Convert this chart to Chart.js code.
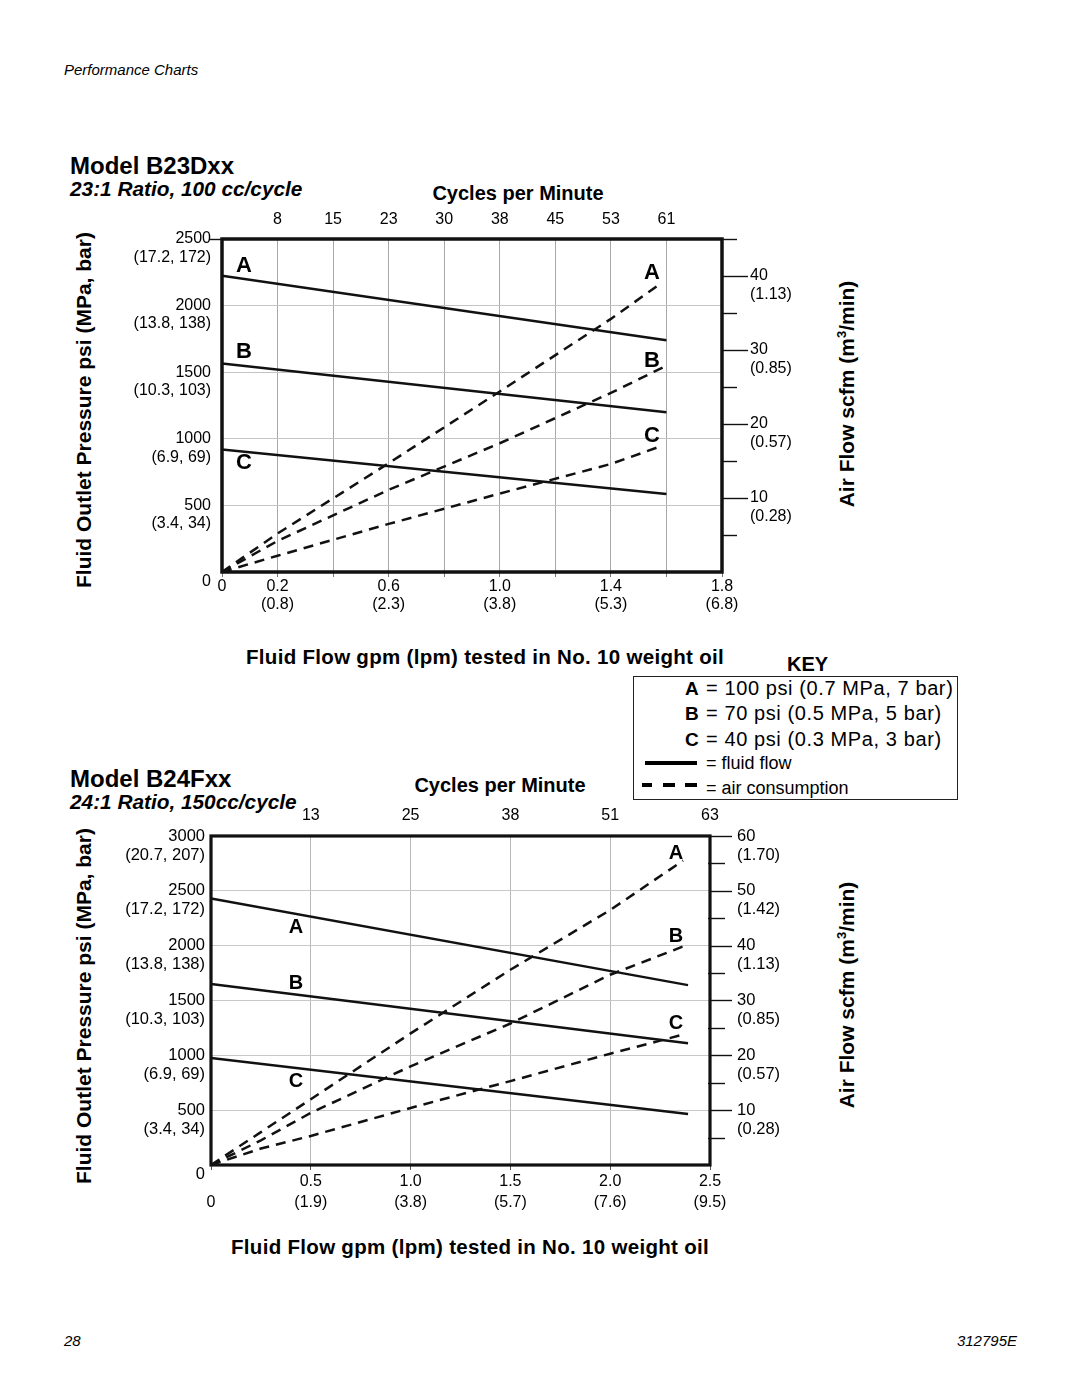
<!DOCTYPE html>
<html><head><meta charset="utf-8">
<script src="https://cdn.jsdelivr.net/npm/chart.js"></script>
<style>
html,body{margin:0;padding:0;background:#fff}
body{width:1080px;height:1397px;position:relative;overflow:hidden;font-family:"Liberation Sans",Arial,Helvetica,sans-serif;color:#000}
.t{position:absolute;white-space:nowrap;line-height:1}
.b{font-weight:bold}
.i{font-style:italic}
.c{transform:translateX(-50%)}
.rot{position:absolute;white-space:nowrap;line-height:1;font-weight:bold;font-size:21px;transform:translate(-50%,-50%) rotate(-90deg)}
.rot sup{font-size:0.62em;line-height:0;vertical-align:0.55em}
canvas{position:absolute;left:0}
#key{position:absolute;left:633px;top:676px;width:323px;height:122px;border:1.5px solid #222}
.bar{position:absolute;background:#000;height:4px}
</style></head>
<body>
<div class="t i" style="left:64px;top:62px;font-size:15px">Performance Charts</div>

<div class="t b" style="left:70px;top:154px;font-size:24px">Model B23Dxx</div>
<div class="t b i" style="left:70px;top:179px;font-size:20.8px">23:1 Ratio, 100 cc/cycle</div>
<div class="t b c" style="left:518px;top:183px;font-size:20px">Cycles per Minute</div>
<div class="rot" style="left:83px;top:410px">Fluid Outlet Pressure psi (MPa, bar)</div>
<div class="rot" style="left:846px;top:394px">Air Flow scfm (m<sup>3</sup>/min)</div>
<div class="t b c" style="left:485px;top:647px;font-size:20.5px;letter-spacing:0.3px">Fluid Flow gpm (lpm) tested in No. 10 weight oil</div>

<div class="t b" style="left:787px;top:654px;font-size:20px">KEY</div>
<div id="key"></div>
<div class="t b" style="left:685px;top:679px;font-size:19px">A</div>
<div class="t" style="left:706px;top:678px;font-size:20px;letter-spacing:0.6px">= 100 psi (0.7 MPa, 7 bar)</div>
<div class="t b" style="left:685px;top:704px;font-size:19px">B</div>
<div class="t" style="left:706px;top:703px;font-size:20px;letter-spacing:0.6px">= 70 psi (0.5 MPa, 5 bar)</div>
<div class="t b" style="left:685px;top:730px;font-size:19px">C</div>
<div class="t" style="left:706px;top:729px;font-size:20px;letter-spacing:0.6px">= 40 psi (0.3 MPa, 3 bar)</div>
<div class="bar" style="left:645px;top:761px;width:52px"></div>
<div class="t" style="left:706px;top:754px;font-size:18px">= fluid flow</div>
<div class="bar" style="left:642px;top:783px;width:10px"></div>
<div class="bar" style="left:663px;top:783px;width:12px"></div>
<div class="bar" style="left:685px;top:783px;width:12px"></div>
<div class="t" style="left:706px;top:779px;font-size:18px">= air consumption</div>

<div class="t b" style="left:70px;top:767px;font-size:24px">Model B24Fxx</div>
<div class="t b i" style="left:70px;top:792px;font-size:20.8px">24:1 Ratio, 150cc/cycle</div>
<div class="t b c" style="left:500px;top:775px;font-size:20px">Cycles per Minute</div>
<div class="rot" style="left:83px;top:1006px">Fluid Outlet Pressure psi (MPa, bar)</div>
<div class="rot" style="left:846px;top:995px">Air Flow scfm (m<sup>3</sup>/min)</div>
<div class="t b c" style="left:470px;top:1237px;font-size:20.5px;letter-spacing:0.3px">Fluid Flow gpm (lpm) tested in No. 10 weight oil</div>

<div class="t i" style="left:64px;top:1333px;font-size:15px">28</div>
<div class="t i" style="right:63px;top:1333px;font-size:15px">312795E</div>

<canvas id="c1" width="1080" height="420" style="top:200px"></canvas>
<canvas id="c2" width="1080" height="440" style="top:790px"></canvas>

<script>
// ===== Model B23Dxx data =====
const b23FlowTicks  = [0, 0.2, 0.6, 1.0, 1.4, 1.8];
const b23FlowLabels = ['0', '0.2', '0.6', '1.0', '1.4', '1.8'];
const b23LpmLabels  = ['', '(0.8)', '(2.3)', '(3.8)', '(5.3)', '(6.8)'];
const b23CycleAt    = [0.2, 0.4, 0.6, 0.8, 1.0, 1.2, 1.4, 1.6];
const b23Cycles     = ['8', '15', '23', '30', '38', '45', '53', '61'];
const b23PsiTicks   = [0, 500, 1000, 1500, 2000, 2500];
const b23PsiSub     = ['', '(3.4, 34)', '(6.9, 69)', '(10.3, 103)', '(13.8, 138)', '(17.2, 172)'];
const b23ScfmTicks  = [10, 20, 30, 40];
const b23ScfmSub    = ['(0.28)', '(0.57)', '(0.85)', '(1.13)'];
const b23FluidX = [0, 1.6];
const b23FluidA = [2225, 1740];
const b23FluidB = [1565, 1200];
const b23FluidC = [920, 585];
const b23AirAX = [0, 0.2, 0.6, 1.0, 1.4, 1.58];
const b23AirA  = [0, 5.2, 14.7, 24.4, 34.2, 39.0];
const b23AirBX = [0, 0.2, 0.6, 1.0, 1.4, 1.59];
const b23AirB  = [0, 4.2, 11.1, 17.4, 24.2, 27.7];
const b23AirCX = [0, 0.2, 0.6, 1.0, 1.4, 1.565];
const b23AirC  = [0, 2.2, 6.5, 10.6, 14.6, 16.8];

// ===== Model B24Fxx data =====
const b24FlowTicks  = [0, 0.5, 1.0, 1.5, 2.0, 2.5];
const b24FlowLabels = ['', '0.5', '1.0', '1.5', '2.0', '2.5'];
const b24LpmLabels  = ['0', '(1.9)', '(3.8)', '(5.7)', '(7.6)', '(9.5)'];
const b24CycleAt    = [0.5, 1.0, 1.5, 2.0, 2.5];
const b24Cycles     = ['13', '25', '38', '51', '63'];
const b24PsiTicks   = [0, 500, 1000, 1500, 2000, 2500, 3000];
const b24PsiSub     = ['', '(3.4, 34)', '(6.9, 69)', '(10.3, 103)', '(13.8, 138)', '(17.2, 172)', '(20.7, 207)'];
const b24ScfmTicks  = [10, 20, 30, 40, 50, 60];
const b24ScfmSub    = ['(0.28)', '(0.57)', '(0.85)', '(1.13)', '(1.42)', '(1.70)'];
const b24FluidX = [0, 2.39];
const b24FluidA = [2430, 1640];
const b24FluidB = [1650, 1110];
const b24FluidC = [975, 465];
const b24AirAX = [0, 0.25, 0.5, 1.0, 1.5, 2.0, 2.365];
const b24AirA  = [0, 6.0, 12.0, 24.0, 35.6, 46.5, 55.5];
const b24AirBX = [0, 0.25, 0.5, 1.0, 1.5, 2.0, 2.39];
const b24AirB  = [0, 4.5, 9.5, 18.0, 25.8, 34.7, 40.2];
const b24AirCX = [0, 0.25, 0.5, 1.0, 1.5, 2.0, 2.357];
const b24AirC  = [0, 3.0, 5.3, 10.4, 15.3, 20.3, 23.7];

// ===== helpers =====
const FONT = '"Liberation Sans", Arial, Helvetica, sans-serif';
Chart.defaults.font.family = FONT;
Chart.defaults.color = '#000';

function idxOf(arr, v) { for (let i = 0; i < arr.length; i++) if (Math.abs(arr[i] - v) < 1e-6) return i; return -1; }
function pts(xs, ys) { return xs.map((x, i) => ({ x: x, y: ys[i] })); }
function fluidDs(xs, ys) {
  return { data: pts(xs, ys), xAxisID: 'x', yAxisID: 'y', borderColor: '#111', borderWidth: 2.5,
           pointRadius: 0, tension: 0, fill: false, borderCapStyle: 'butt' };
}
function airDs(xs, ys) {
  return { data: pts(xs, ys), xAxisID: 'x', yAxisID: 'y2', borderColor: '#111', borderWidth: 2.5,
           borderDash: [10, 7], pointRadius: 0, tension: 0, fill: false, borderCapStyle: 'butt' };
}

function makeDeco(o) {
  return {
    id: 'deco',
    afterDatasetsDraw(chart) {
      const ctx = chart.ctx, a = chart.chartArea, y2 = chart.scales.y2;
      ctx.save();
      ctx.strokeStyle = '#111';
      ctx.lineWidth = 1.4;
      for (let k = 1; k * o.tickStep <= o.tickMax + 1e-9; k++) {
        const v = k * o.tickStep;
        const py = Math.round(y2.getPixelForValue(v)) + 0.5;
        const major = Math.abs(v / o.majorStep - Math.round(v / o.majorStep)) < 1e-6;
        ctx.beginPath();
        ctx.moveTo(a.right + (major ? o.majorStart : o.minorStart), py);
        ctx.lineTo(a.right + (major ? o.majorLen : o.minorLen), py);
        ctx.stroke();
      }
      if (o.leftExt) {
        ctx.beginPath();
        ctx.moveTo(a.left - o.leftExt, a.top + 0.5);
        ctx.lineTo(a.left, a.top + 0.5);
        ctx.stroke();
      }
      ctx.lineWidth = o.boxWidth;
      ctx.strokeRect(a.left, a.top, a.right - a.left, a.bottom - a.top);
      ctx.font = o.labelFont;
      ctx.fillStyle = '#000';
      ctx.textAlign = 'center';
      ctx.textBaseline = 'middle';
      for (const L of o.labels) {
        ctx.fillText(L.t, chart.scales.x.getPixelForValue(L.x), chart.scales.y.getPixelForValue(L.y));
      }
      ctx.restore();
    }
  };
}

function baseOptions(scales) {
  return {
    responsive: false, animation: false, devicePixelRatio: 1,
    layout: { padding: 0 },
    plugins: { legend: { display: false }, tooltip: { enabled: false } },
    scales: scales
  };
}

// ===== Chart 1 : B23Dxx =====
new Chart(document.getElementById('c1'), {
  type: 'line',
  data: { datasets: [
    fluidDs(b23FluidX, b23FluidA), fluidDs(b23FluidX, b23FluidB), fluidDs(b23FluidX, b23FluidC),
    airDs(b23AirAX, b23AirA), airDs(b23AirBX, b23AirB), airDs(b23AirCX, b23AirC)
  ]},
  options: baseOptions({
    x: { type: 'linear', position: 'bottom', min: 0, max: 1.8,
      afterFit(s) { s.height = 48; },
      ticks: { stepSize: 0.2, autoSkip: false, maxRotation: 0, minRotation: 0, padding: 0,
        font: { size: 16, lineHeight: 1.15 }, color: '#000',
        callback(v) { const i = idxOf(b23FlowTicks, v); return i < 0 ? '' : [b23FlowLabels[i], b23LpmLabels[i]]; } },
      grid: { color: '#a8a8a8', lineWidth: 1, drawTicks: true, tickLength: 5, tickColor: '#777' },
      border: { display: false } },
    xTop: { type: 'linear', position: 'top', min: 0, max: 1.8,
      afterFit(s) { s.height = 39; },
      ticks: { stepSize: 0.2, autoSkip: false, maxRotation: 0, minRotation: 0, padding: 10,
        font: { size: 16, lineHeight: 1.15 }, color: '#000',
        callback(v) { const i = idxOf(b23CycleAt, v); return i < 0 ? '' : b23Cycles[i]; } },
      grid: { display: false, drawTicks: false }, border: { display: false } },
    y: { type: 'linear', position: 'left', min: 0, max: 2500,
      afterFit(s) { s.width = 222; },
      ticks: { stepSize: 500, autoSkip: false, padding: 11, labelOffset: 9.2,
        font: { size: 16, lineHeight: 1.15 }, color: '#000',
        callback(v) { const i = idxOf(b23PsiTicks, v); if (i < 0) return ''; return i === 0 ? '0' : [String(b23PsiTicks[i]), b23PsiSub[i]]; } },
      grid: { color: '#c4c4c4', lineWidth: 1, drawTicks: false }, border: { display: false } },
    y2: { type: 'linear', position: 'right', min: 0, max: 45,
      afterFit(s) { s.width = 358; },
      ticks: { stepSize: 5, autoSkip: false, padding: 28, labelOffset: 9.2,
        font: { size: 16, lineHeight: 1.15 }, color: '#000',
        callback(v) { const i = idxOf(b23ScfmTicks, v); return i < 0 ? '' : [String(b23ScfmTicks[i]), b23ScfmSub[i]]; } },
      grid: { display: false, drawTicks: false }, border: { display: false } }
  }),
  plugins: [makeDeco({
    tickStep: 5, tickMax: 45, majorStep: 10, majorStart: 0, majorLen: 26, minorStart: 0, minorLen: 15,
    leftExt: 12, boxWidth: 3.5, labelFont: 'bold 22px ' + FONT,
    labels: [
      { t: 'A', x: 0.079, y: 2297 }, { t: 'B', x: 0.079, y: 1652 }, { t: 'C', x: 0.079, y: 818 },
      { t: 'A', x: 1.548, y: 2245 }, { t: 'B', x: 1.548, y: 1584 }, { t: 'C', x: 1.548, y: 1021 }
    ]
  })]
});

// ===== Chart 2 : B24Fxx =====
new Chart(document.getElementById('c2'), {
  type: 'line',
  data: { datasets: [
    fluidDs(b24FluidX, b24FluidA), fluidDs(b24FluidX, b24FluidB), fluidDs(b24FluidX, b24FluidC),
    airDs(b24AirAX, b24AirA), airDs(b24AirBX, b24AirB), airDs(b24AirCX, b24AirC)
  ]},
  options: baseOptions({
    x: { type: 'linear', position: 'bottom', min: 0, max: 2.5,
      afterFit(s) { s.height = 65; },
      ticks: { stepSize: 0.5, autoSkip: false, maxRotation: 0, minRotation: 0, padding: 1,
        font: { size: 16, lineHeight: 1.3 }, color: '#000',
        callback(v) { const i = idxOf(b24FlowTicks, v); return i < 0 ? '' : [b24FlowLabels[i], b24LpmLabels[i]]; } },
      grid: { color: '#b8b8b8', lineWidth: 1, drawTicks: true, tickLength: 5, tickColor: '#555' },
      border: { display: false } },
    xTop: { type: 'linear', position: 'top', min: 0, max: 2.5,
      afterFit(s) { s.height = 42; },
      ticks: { stepSize: 0.5, autoSkip: false, maxRotation: 0, minRotation: 0, padding: 11,
        font: { size: 16, lineHeight: 1.15 }, color: '#000',
        callback(v) { const i = idxOf(b24CycleAt, v); return i < 0 ? '' : b24Cycles[i]; } },
      grid: { display: false, drawTicks: false }, border: { display: false } },
    y: { type: 'linear', position: 'left', min: 0, max: 3000,
      afterFit(s) { s.width = 211; },
      ticks: { stepSize: 500, autoSkip: false, padding: 6, labelOffset: 9.5,
        font: { size: 16.5, lineHeight: 1.15 }, color: '#000',
        callback(v) { const i = idxOf(b24PsiTicks, v); if (i < 0) return ''; return i === 0 ? '0' : [String(b24PsiTicks[i]), b24PsiSub[i]]; } },
      grid: { color: '#c8c8c8', lineWidth: 1, drawTicks: false }, border: { display: false } },
    y2: { type: 'linear', position: 'right', min: 0, max: 60,
      afterFit(s) { s.width = 370; },
      ticks: { stepSize: 5, autoSkip: false, padding: 27, labelOffset: 9.5,
        font: { size: 16.5, lineHeight: 1.15 }, color: '#000',
        callback(v) { const i = idxOf(b24ScfmTicks, v); return i < 0 ? '' : [String(b24ScfmTicks[i]), b24ScfmSub[i]]; } },
      grid: { display: false, drawTicks: false }, border: { display: false } }
  }),
  plugins: [makeDeco({
    tickStep: 5, tickMax: 60, majorStep: 10, majorStart: 0, majorLen: 22, minorStart: -2, minorLen: 15,
    leftExt: 0, boxWidth: 3.2, labelFont: 'bold 20px ' + FONT,
    labels: [
      { t: 'A', x: 0.426, y: 2162 }, { t: 'B', x: 0.426, y: 1658 }, { t: 'C', x: 0.426, y: 757 },
      { t: 'A', x: 2.33, y: 2838 }, { t: 'B', x: 2.33, y: 2081 }, { t: 'C', x: 2.33, y: 1288 }
    ]
  })]
});
</script>
</body></html>
